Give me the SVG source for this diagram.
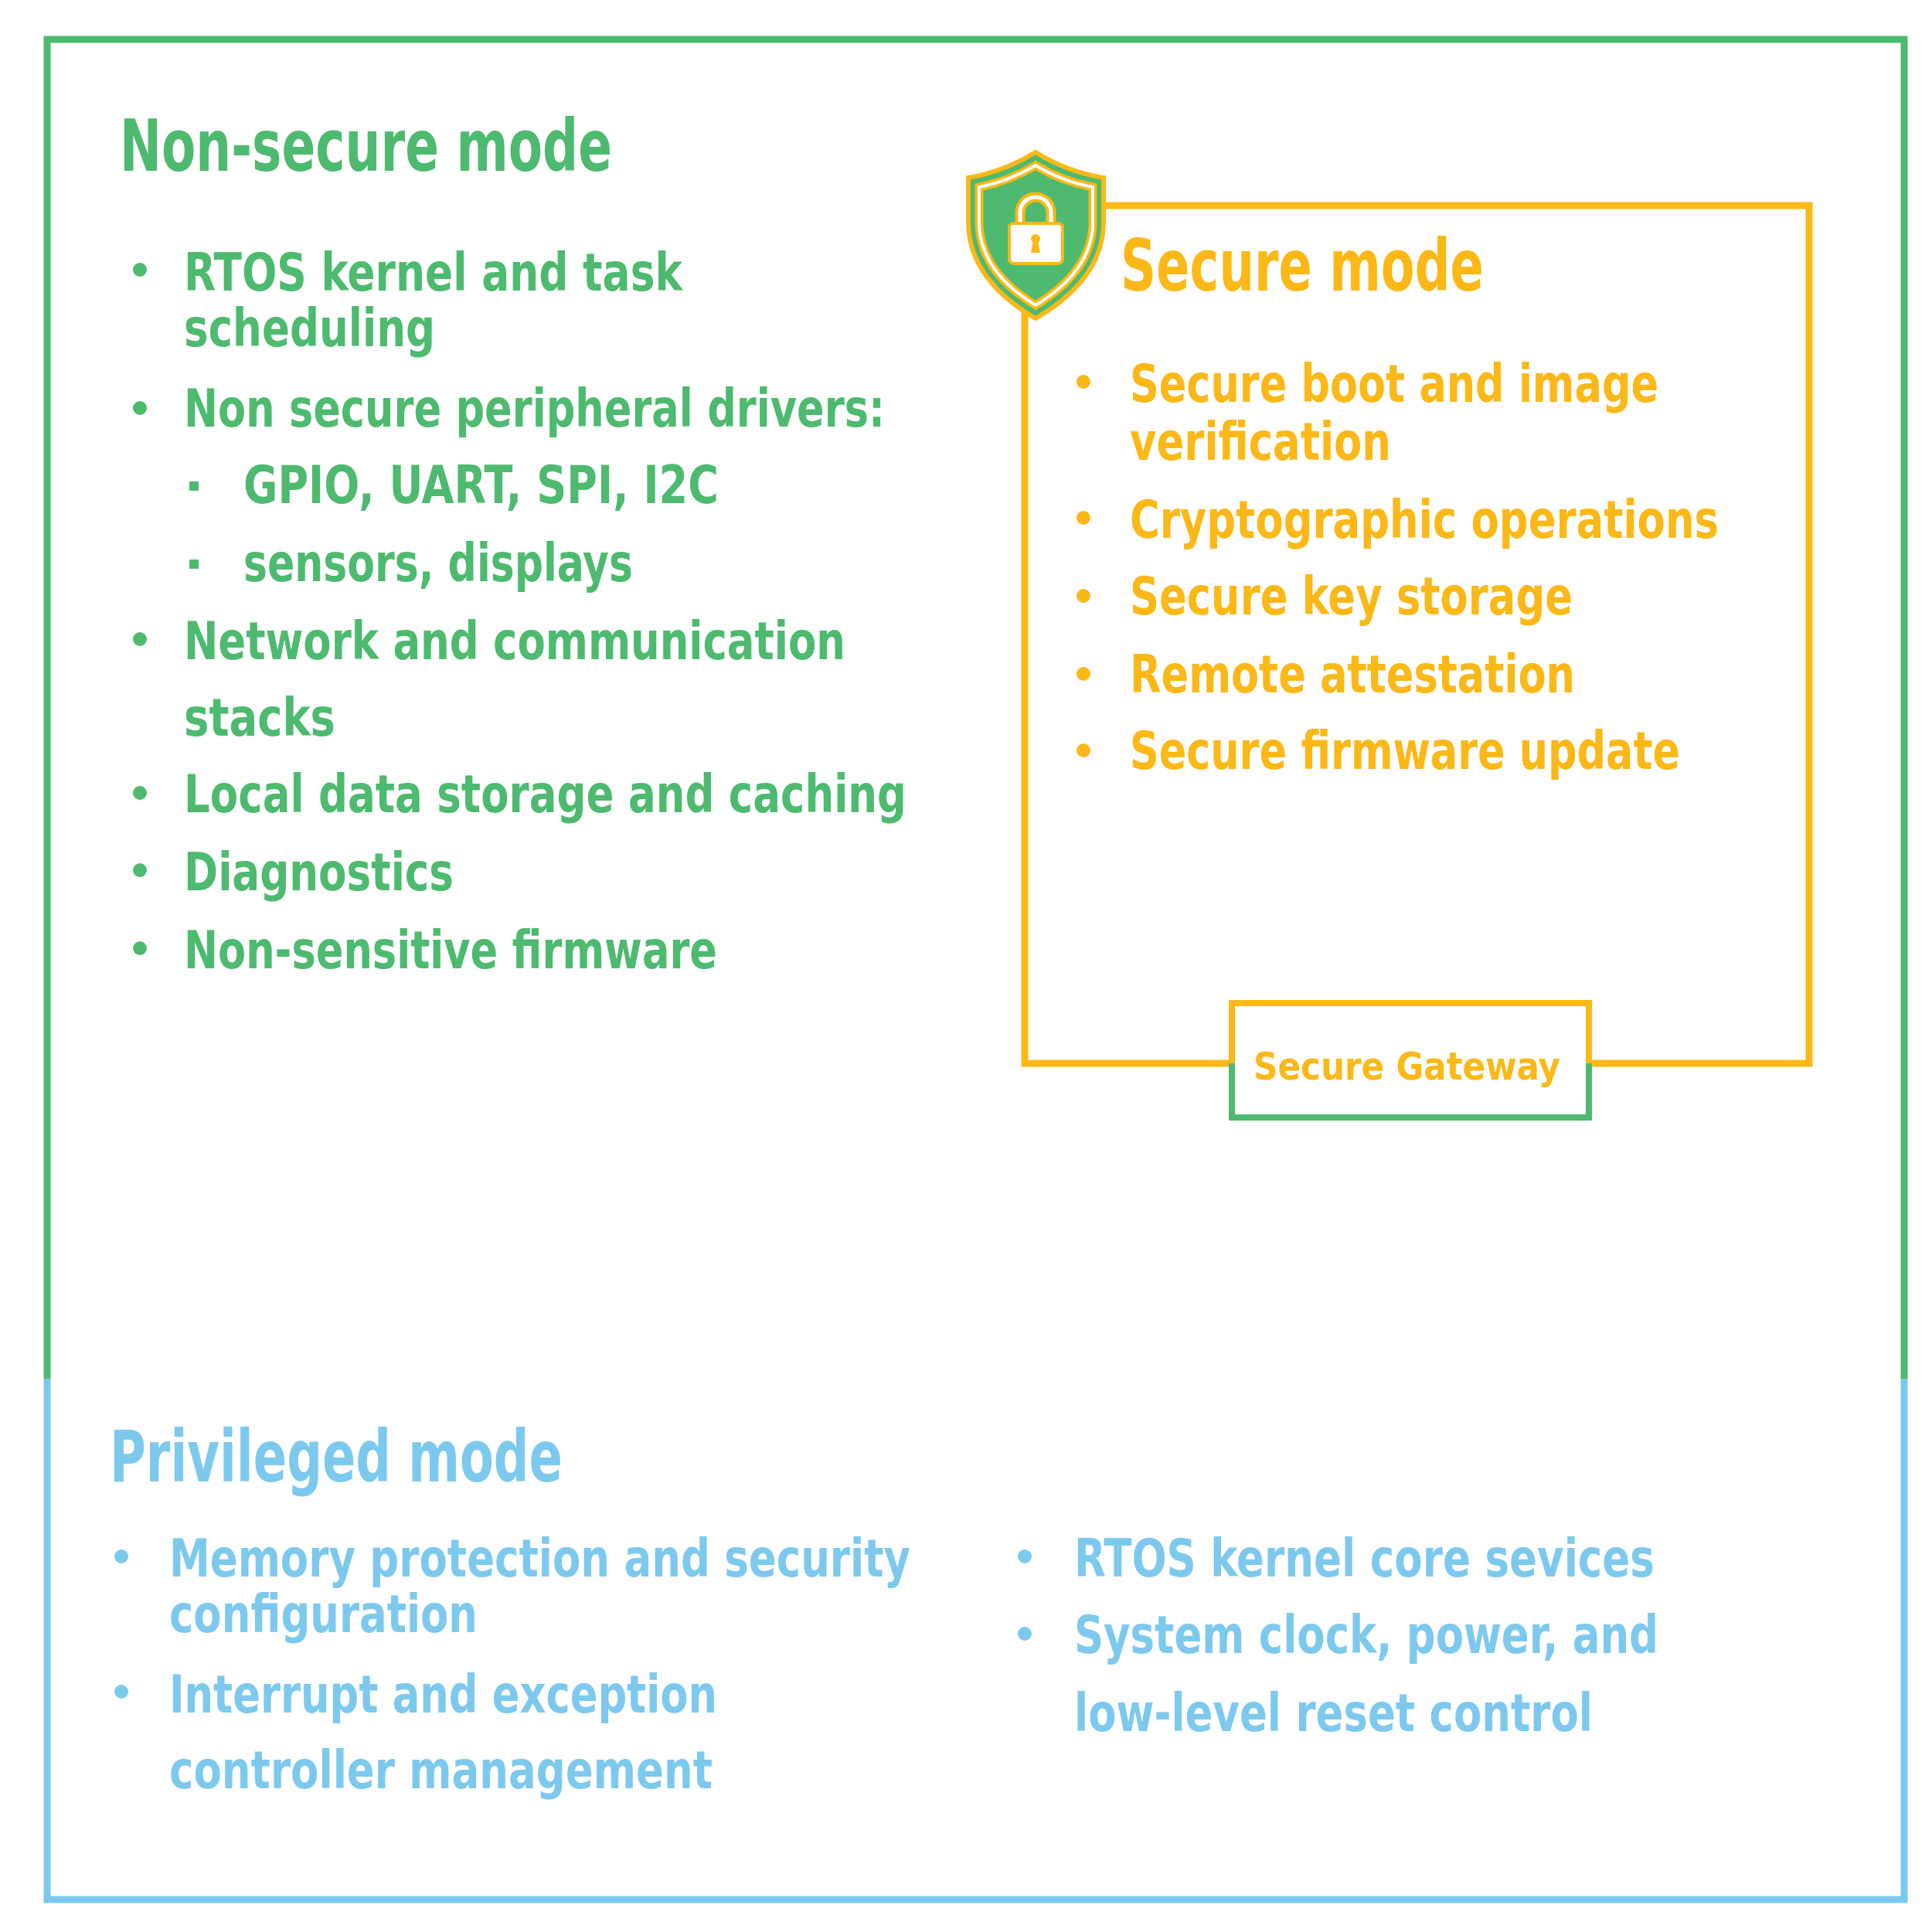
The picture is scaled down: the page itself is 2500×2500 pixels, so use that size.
<svg xmlns="http://www.w3.org/2000/svg" width="2500" height="2500" viewBox="0 0 2500 2500">
<style>
text{font-family:"DejaVu Sans Condensed","DejaVu Sans",sans-serif;font-weight:bold}
.g{fill:#4dba6f}.y{fill:#fbb817}.b{fill:#7dc9ee}
.t{font-size:68px}.h{font-size:92px}
</style>
<rect width="2500" height="2500" fill="#fff"/>
<g id="nonsecure">
<polyline points="61,1784 61,51 2464,51 2464,1784" fill="none" stroke="#4dba6f" stroke-width="9"/>
<text class="g h" x="155" y="221" textLength="637" lengthAdjust="spacingAndGlyphs">Non-secure mode</text>
<g class="g">
<circle cx="181" cy="349" r="9"/><circle cx="181" cy="528" r="9"/><circle cx="181" cy="827" r="9"/><circle cx="181" cy="1026" r="9"/><circle cx="181" cy="1126" r="9"/><circle cx="181" cy="1227" r="9"/>
<rect x="245" y="623" width="12" height="12"/><rect x="245" y="724" width="12" height="12"/>
</g>
<text class="g t" x="238" y="376" textLength="645" lengthAdjust="spacingAndGlyphs">RTOS kernel and task</text>
<text class="g t" x="238" y="448" textLength="325" lengthAdjust="spacingAndGlyphs">scheduling</text>
<text class="g t" x="238" y="552" textLength="907" lengthAdjust="spacingAndGlyphs">Non secure peripheral drivers:</text>
<text class="g t" x="315" y="651" textLength="615" lengthAdjust="spacingAndGlyphs">GPIO, UART, SPI, I2C</text>
<text class="g t" x="315" y="752" textLength="504" lengthAdjust="spacingAndGlyphs">sensors, displays</text>
<text class="g t" x="238" y="853" textLength="856" lengthAdjust="spacingAndGlyphs">Network and communication</text>
<text class="g t" x="238" y="952" textLength="196" lengthAdjust="spacingAndGlyphs">stacks</text>
<text class="g t" x="238" y="1051" textLength="935" lengthAdjust="spacingAndGlyphs">Local data storage and caching</text>
<text class="g t" x="238" y="1152" textLength="349" lengthAdjust="spacingAndGlyphs">Diagnostics</text>
<text class="g t" x="238" y="1253" textLength="690" lengthAdjust="spacingAndGlyphs">Non-sensitive firmware</text>
</g>
<g id="privileged">
<polyline points="61,1784 61,2458 2464,2458 2464,1784" fill="none" stroke="#7dc9ee" stroke-width="9"/>
<text class="b h" x="142" y="1917" textLength="586" lengthAdjust="spacingAndGlyphs">Privileged mode</text>
<g class="b"><circle cx="157" cy="2014" r="9"/><circle cx="157" cy="2189" r="9"/><circle cx="1326" cy="2014" r="9"/><circle cx="1326" cy="2114" r="9"/></g>
<text class="b t" x="219" y="2040" textLength="959" lengthAdjust="spacingAndGlyphs">Memory protection and security</text>
<text class="b t" x="219" y="2112" textLength="399" lengthAdjust="spacingAndGlyphs">configuration</text>
<text class="b t" x="219" y="2216" textLength="709" lengthAdjust="spacingAndGlyphs">Interrupt and exception</text>
<text class="b t" x="219" y="2314" textLength="703" lengthAdjust="spacingAndGlyphs">controller management</text>
<text class="b t" x="1390" y="2040" textLength="751" lengthAdjust="spacingAndGlyphs">RTOS kernel core sevices</text>
<text class="b t" x="1390" y="2139" textLength="756" lengthAdjust="spacingAndGlyphs">System clock, power, and</text>
<text class="b t" x="1390" y="2240" textLength="671" lengthAdjust="spacingAndGlyphs">low-level reset control</text>
</g>
<g id="secure">
<rect x="1326" y="266" width="1015" height="1110" fill="none" stroke="#fbb817" stroke-width="9"/>
<text class="y h" x="1450" y="376" textLength="470" lengthAdjust="spacingAndGlyphs">Secure mode</text>
<g class="y"><circle cx="1402" cy="494" r="9"/><circle cx="1402" cy="670" r="9"/><circle cx="1402" cy="771" r="9"/><circle cx="1402" cy="872" r="9"/><circle cx="1402" cy="971" r="9"/></g>
<text class="y t" x="1462" y="520" textLength="684" lengthAdjust="spacingAndGlyphs">Secure boot and image</text>
<text class="y t" x="1462" y="595" textLength="338" lengthAdjust="spacingAndGlyphs">verification</text>
<text class="y t" x="1462" y="696" textLength="762" lengthAdjust="spacingAndGlyphs">Cryptographic operations</text>
<text class="y t" x="1462" y="795" textLength="573" lengthAdjust="spacingAndGlyphs">Secure key storage</text>
<text class="y t" x="1462" y="896" textLength="576" lengthAdjust="spacingAndGlyphs">Remote attestation</text>
<text class="y t" x="1462" y="995" textLength="712" lengthAdjust="spacingAndGlyphs">Secure firmware update</text>
</g>
<g id="shield">
<path d="M1340,197 Q1300,222 1253,230 L1253,290 Q1255,362 1340,412 Q1426,362 1428,290 L1428,230 Q1380,222 1340,197 Z" fill="#4dba6f" stroke="#fbb817" stroke-width="6"/>
<path d="M1340,214 Q1305,235 1267,242 L1267,292 Q1270,352 1340,395 Q1411,352 1414,292 L1414,242 Q1375,235 1340,214 Z" fill="none" stroke="#fbb817" stroke-width="11"/>
<path d="M1340,214 Q1305,235 1267,242 L1267,292 Q1270,352 1340,395 Q1411,352 1414,292 L1414,242 Q1375,235 1340,214 Z" fill="none" stroke="#fff" stroke-width="4"/>
<path d="M1320,292 L1320,275 A20,20 0 0 1 1360,275 L1360,292" fill="none" stroke="#fbb817" stroke-width="13"/>
<path d="M1320,292 L1320,275 A20,20 0 0 1 1360,275 L1360,292" fill="none" stroke="#fff" stroke-width="5"/>
<rect x="1306" y="289" width="69" height="52" rx="6" fill="#fff" stroke="#fbb817" stroke-width="4"/>
<circle cx="1340" cy="309" r="6" fill="#fbb817"/>
<path d="M1337,311 L1343,311 L1346,327 L1334,327 Z" fill="#fbb817"/>
</g>
<g id="gateway">
<rect x="1594" y="1300" width="462" height="144" fill="#fff"/>
<polyline points="1594,1376 1594,1298 2056,1298 2056,1376" fill="none" stroke="#fbb817" stroke-width="8"/>
<polyline points="1594,1376 1594,1446 2056,1446 2056,1376" fill="none" stroke="#4dba6f" stroke-width="8"/>
<text class="y" font-size="50" x="1622" y="1397" textLength="397" lengthAdjust="spacingAndGlyphs">Secure Gateway</text>
</g>
</svg>
